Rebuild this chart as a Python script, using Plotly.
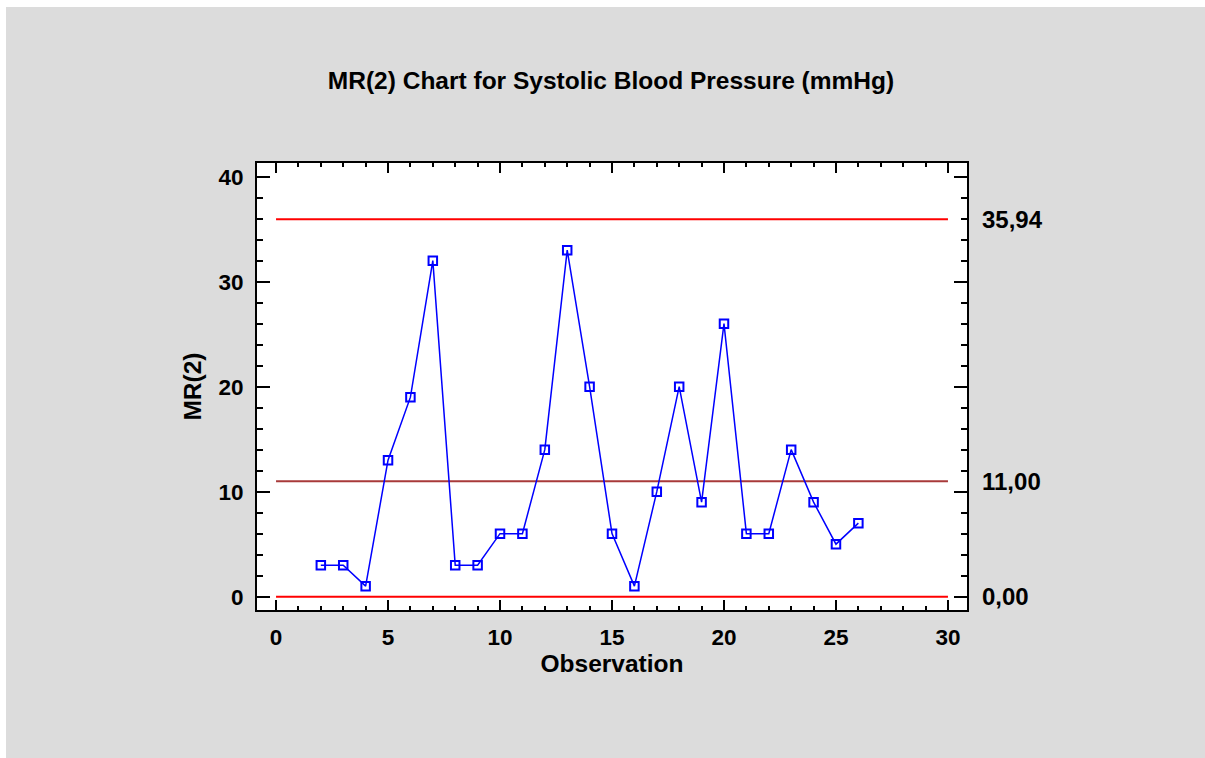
import plotly.graph_objects as go

# Data
observation = list(range(2, 27))
mr2 = [3, 3, 1, 13, 19, 32, 3, 3, 6, 6, 14, 33, 20, 6, 1, 10, 20, 9, 26, 6, 6, 14, 9, 5, 7]
ucl = 35.94
cl = 11.00
lcl = 0.0
limit_x = [0, 30]
limit_labels = ["35,94", "11,00", "0,00"]

W, H = 1205, 758
L, R, T, B = 257, 967, 163, 610
plot_w, plot_h = R - L, B - T

fig = go.Figure()

for val, col in [(ucl, "#ff0000"), (cl, "#a83a3a"), (lcl, "#ff0000")]:
    fig.add_trace(go.Scatter(x=limit_x, y=[val, val], mode="lines",
                             line=dict(color=col, width=2), hoverinfo="skip",
                             showlegend=False))

fig.add_trace(go.Scatter(x=observation, y=mr2, mode="lines+markers",
                         line=dict(color="#0000ff", width=1.5),
                         marker=dict(symbol="square-open", size=8.5,
                                     color="#0000ff", line=dict(width=2, color="#0000ff")),
                         showlegend=False))

for val, txt in zip([ucl, cl, lcl], limit_labels):
    fig.add_annotation(x=1, xref="paper", y=val, yref="y", text="<b>%s</b>" % txt,
                       showarrow=False, xanchor="left", yanchor="middle", xshift=13,
                       font=dict(family="Arial", size=24, color="black"))

# white border strips on top/left of the grey background
def px_x(p):
    return (p - L) / plot_w

def px_y(p):
    return (B - p) / plot_h

fig.add_shape(type="rect", xref="paper", yref="paper", x0=px_x(-5), x1=px_x(W + 5),
              y0=px_y(7), y1=px_y(-5), fillcolor="white", line=dict(width=0))
fig.add_shape(type="rect", xref="paper", yref="paper", x0=px_x(-5), x1=px_x(6),
              y0=px_y(H + 5), y1=px_y(-5), fillcolor="white", line=dict(width=0))

axis_common = dict(showgrid=False, zeroline=False, showline=True, linecolor="black",
                   linewidth=2, mirror="ticks", ticks="inside", tickcolor="black",
                   tickwidth=2, tickfont=dict(family="Arial", size=22.5, color="black"))

fig.update_xaxes(range=[-0.85, 30.85], dtick=5, tick0=0, ticklen=10,
                 minor=dict(dtick=1, ticks="inside", ticklen=4, tickwidth=2, tickcolor="black"),
                 title=dict(text="<b>Observation</b>", font=dict(family="Arial", size=24.5, color="black"),
                            standoff=5),
                 tickprefix="<b>", ticksuffix="</b>", ticklabelstandoff=6,
                 **axis_common)
fig.update_yaxes(range=[-1.27, 41.3], dtick=10, tick0=0, ticklen=13,
                 minor=dict(dtick=2, ticks="inside", ticklen=6, tickwidth=2, tickcolor="black"),
                 title=dict(text="<b>MR(2)</b>", font=dict(family="Arial", size=24.5, color="black"),
                            standoff=10),
                 tickprefix="<b>", ticksuffix="</b>", ticklabelstandoff=7,
                 **axis_common)

fig.update_layout(
    width=W, height=H,
    margin=dict(l=L, r=W - R, t=T, b=H - B, autoexpand=False),
    paper_bgcolor="#dcdcdc", plot_bgcolor="white",
    title=dict(text="<b>MR(2) Chart for Systolic Blood Pressure (mmHg)</b>",
               x=611 / W, xanchor="center", y=1 - 80 / H, yanchor="middle",
               yref="container", font=dict(family="Arial", size=24.5, color="black")),
    showlegend=False,
)

fig.write_html("out.html")
